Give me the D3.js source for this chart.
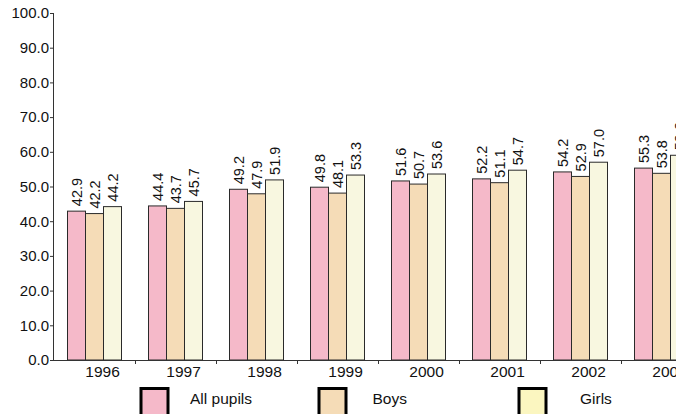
<!DOCTYPE html>
<html>
<head>
<meta charset="utf-8">
<script src="https://cdn.jsdelivr.net/npm/d3@7"></script>
<style>
  html, body { margin: 0; padding: 0; background: #fff; }
  svg { display: block; font-family: "Liberation Sans", Arial, sans-serif; }
</style>
</head>
<body>
<svg id="chart" width="676" height="414"></svg>
<script>
// ---- data ----
const years = ["1996", "1997", "1998", "1999", "2000", "2001", "2002", "2003"];
const allPupils = [42.9, 44.4, 49.2, 49.8, 51.6, 52.2, 54.2, 55.3];
const boys      = [42.2, 43.7, 47.9, 48.1, 50.7, 51.1, 52.9, 53.8];
const girls     = [44.2, 45.7, 51.9, 53.3, 53.6, 54.7, 57.0, 59.0];
const seriesNames = ["All pupils", "Boys", "Girls"];
const yTicks = [0, 10, 20, 30, 40, 50, 60, 70, 80, 90, 100];

// ---- styles / layout ----
const barColors = ["#F5B9C9", "#F5DCB7", "#F8F7E0"];
const legendColors = ["#F5B9C9", "#F5DCB7", "#FBF6C0"];
const legendBoxX = [139.5, 317.5, 517.5];
const legendTextX = [190, 372.5, 580];

const svg = d3.select("#chart");
const mLeft = 54, mTop = 13, mBottom = 360;
const bandW = 81;

const x = d3.scaleBand().domain(years).range([mLeft, mLeft + bandW * years.length]).padding(0);
const xs = d3.scaleBand().domain(seriesNames).range([13.5, 67.5]).padding(0);
const y = d3.scaleLinear().domain([0, 100]).range([mBottom, mTop]);

const series = [allPupils, boys, girls];
const fmt = d3.format(".1f");

// bars
series.forEach((vals, si) => {
  const g = svg.append("g");
  g.selectAll("rect").data(vals).join("rect")
    .attr("x", (d, i) => x(years[i]) + xs(seriesNames[si]))
    .attr("y", d => y(d))
    .attr("width", xs.bandwidth())
    .attr("height", d => y(0) - y(d))
    .attr("fill", barColors[si])
    .attr("stroke", "#2a2a2a")
    .attr("stroke-width", 1);
  g.selectAll("text").data(vals).join("text")
    .attr("transform", (d, i) => {
      const cx = x(years[i]) + xs(seriesNames[si]) + xs.bandwidth() / 2;
      return `translate(${cx},${y(d) - 5}) rotate(-90)`;
    })
    .attr("dy", "0.36em")
    .attr("font-size", "14.5px")
    .attr("fill", "#111")
    .text(d => fmt(d));
});

// y axis
const yAxis = svg.append("g")
  .attr("transform", `translate(${mLeft},0)`)
  .call(d3.axisLeft(y).tickValues(yTicks).tickFormat(fmt).tickSize(4).tickPadding(1));
yAxis.select(".domain").attr("stroke", "#333").attr("d", `M-0.5,${mTop}V${mBottom}`);
yAxis.selectAll(".tick line").attr("stroke", "#333");
yAxis.selectAll(".tick text").attr("font-size", "15px").attr("fill", "#111")
  .attr("font-family", "'Liberation Sans', Arial, sans-serif");

// x axis
const xAxis = svg.append("g")
  .attr("transform", `translate(0,${mBottom})`)
  .call(d3.axisBottom(x).tickSize(0).tickPadding(6));
xAxis.select(".domain").attr("stroke", "#333").attr("d", `M${mLeft},0.5H676`);
xAxis.selectAll(".tick text").attr("font-size", "15.5px").attr("fill", "#111")
  .attr("x", 8).attr("font-family", "'Liberation Sans', Arial, sans-serif");
const bounds = years.map(d => x(d)).concat([x(years[years.length - 1]) + x.bandwidth()]);
xAxis.selectAll("line.bnd").data(bounds.slice(1)).join("line")
  .attr("class", "bnd")
  .attr("x1", d => d + 0.5).attr("x2", d => d + 0.5)
  .attr("y1", 0).attr("y2", 4)
  .attr("stroke", "#333");

// legend
const lg = svg.append("g");
seriesNames.forEach((name, i) => {
  lg.append("rect")
    .attr("x", legendBoxX[i] + 1.5).attr("y", 388.5)
    .attr("width", 27).attr("height", 40)
    .attr("fill", legendColors[i])
    .attr("stroke", "#000").attr("stroke-width", 3);
  lg.append("text")
    .attr("x", legendTextX[i]).attr("y", 404)
    .attr("font-size", "15.5px").attr("fill", "#111")
    .text(name);
});
</script>
</body>
</html>
